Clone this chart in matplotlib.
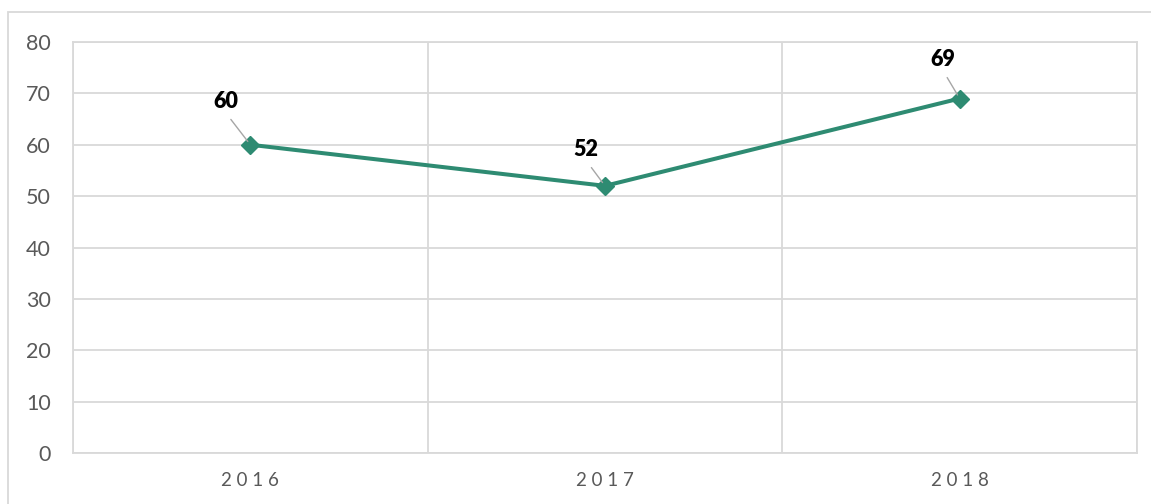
import matplotlib.pyplot as plt
from matplotlib.patches import Rectangle

years = ['2016', '2017', '2018']
values = [60, 52, 69]
y_ticks = [0, 10, 20, 30, 40, 50, 60, 70, 80]
# label offsets from each point, in pixels
label_offsets = [(-25, 43), (-19, 36), (-17, 39)]

plt.rcParams['font.family'] = ['Lato', 'DejaVu Sans']

line_col = '#2E8B72'
grid_col = '#D9D9D9'
text_col = '#595959'

fig = plt.figure(figsize=(11.51, 5.04), dpi=100)
ax = fig.add_axes([73 / 1151, 51 / 504, 1064 / 1151, 411 / 504])

# outer chart border
fig.patches.append(Rectangle((8 / 1151, -0.1), 1.2, (504 - 12) / 504 + 0.1,
                             transform=fig.transFigure, fill=False,
                             edgecolor=grid_col, linewidth=1.3))

x = [i + 0.5 for i in range(len(years))]
ax.plot(x, values, color=line_col, linewidth=2.9, marker='D', markersize=9.5,
        zorder=3)

for xi, v, off in zip(x, values, label_offsets):
    ax.annotate(str(v), xy=(xi, v), xytext=off, textcoords='offset pixels',
                ha='center', va='center', fontsize=15.5, fontweight='heavy',
                color='black',
                arrowprops=dict(arrowstyle='-', color='#A6A6A6', lw=1.0,
                                shrinkA=4, shrinkB=3, relpos=(0.5, 0)))

ax.set_xlim(0, len(years))
ax.set_ylim(0, 80)
ax.set_yticks(y_ticks)
ax.set_yticklabels([str(t) for t in y_ticks], fontsize=15.5, color=text_col)
ax.set_xticks(x)
ax.set_xticklabels([' '.join(y) for y in years], fontsize=13.5,
                   color=text_col)
ax.set_xticks(range(len(years) + 1), minor=True)
ax.tick_params(axis='both', which='both', length=0)
ax.tick_params(axis='y', pad=16)
ax.tick_params(axis='x', pad=14)

ax.grid(True, axis='y', which='major', color=grid_col, linewidth=1.3)
ax.grid(True, axis='x', which='minor', color=grid_col, linewidth=1.3)
ax.set_axisbelow(True)
for s in ax.spines.values():
    s.set_color(grid_col)
    s.set_linewidth(1.3)

fig.savefig('out.png', dpi=100)
